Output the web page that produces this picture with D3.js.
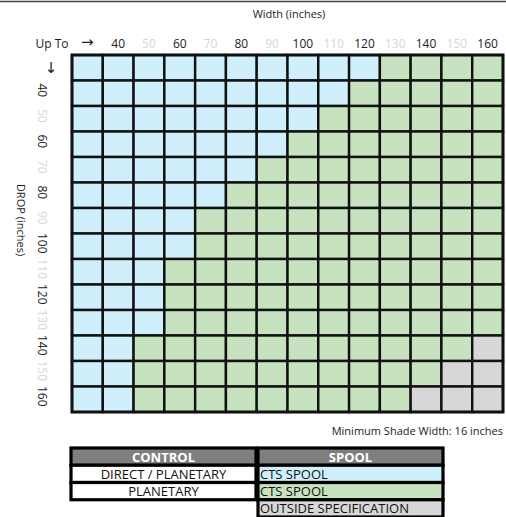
<!DOCTYPE html>
<html>
<head>
<meta charset="utf-8">
<script src="https://cdn.jsdelivr.net/npm/d3@7"></script>
<style>
  body { margin: 0; background: #fff; }
  text { font-family: "Open Sans", "Liberation Sans", sans-serif; }
</style>
</head>
<body>
<svg id="chart" width="506" height="517"></svg>
<script>
// column and row headers (first one is the arrow cell)
var colLabels = ["→", "40", "50", "60", "70", "80", "90", "100", "110", "120", "130", "140", "150", "160"];
var rowLabels = ["↓", "40", "50", "60", "70", "80", "90", "100", "110", "120", "130", "140", "150", "160"];
var faintLabels = ["50", "70", "90", "110", "130", "150"];

// how many cells per row are blue (from the left) and grey (from the right)
var blueCount = [10, 9, 8, 7, 6, 5, 4, 4, 3, 3, 3, 2, 2, 2];
var greyCount = [0, 0, 0, 0, 0, 0, 0, 0, 0, 0, 0, 1, 2, 3];

// legend table
var controlNames = ["DIRECT / PLANETARY", "PLANETARY"];
var spoolNames = ["CTS SPOOL", "CTS SPOOL", "OUTSIDE SPECIFICATION"];

var colors = { blue: "#d0effc", green: "#c6e2bf", grey: "#d7d7d7" };
var spoolColors = [colors.blue, colors.green, colors.grey];

var svg = d3.select("#chart");

var x = d3.scaleBand().domain(d3.range(colLabels.length)).range([72, 503]);
var y = d3.scaleBand().domain(d3.range(rowLabels.length)).range([55, 412]);

function labelColor(d) {
	return faintLabels.indexOf(d) >= 0 ? "#d6d6d6" : "#222";
}
function isArrow(d) { return d === "→" || d === "↓"; }

// top rule
svg.append("line")
	.attr("x1", 0).attr("x2", 506)
	.attr("y1", 1.5).attr("y2", 1.5)
	.attr("stroke", "#444").attr("stroke-width", 1.5);

// build cells
var cells = [];
rowLabels.forEach(function(r, i) {
	colLabels.forEach(function(c, j) {
		var kind = "green";
		if (j < blueCount[i]) kind = "blue";
		else if (j >= colLabels.length - greyCount[i]) kind = "grey";
		cells.push({ row: i, col: j, kind: kind });
	});
});

svg.append("g").selectAll("rect")
	.data(cells)
	.enter().append("rect")
	.attr("x", function(d) { return x(d.col); })
	.attr("y", function(d) { return y(d.row); })
	.attr("width", x.bandwidth())
	.attr("height", y.bandwidth())
	.attr("fill", function(d) { return colors[d.kind]; })
	.attr("stroke", "#111")
	.attr("stroke-width", 2.4);

svg.append("rect")
	.attr("x", 72).attr("y", 55)
	.attr("width", 431).attr("height", 357)
	.attr("fill", "none")
	.attr("stroke", "#111").attr("stroke-width", 2.8);

// column labels
svg.append("g").selectAll("text")
	.data(colLabels)
	.enter().append("text")
	.attr("x", function(d, i) { return x(i) + x.bandwidth() / 2; })
	.attr("y", function(d) { return isArrow(d) ? 47 : 48; })
	.attr("text-anchor", "middle")
	.attr("font-size", function(d) { return isArrow(d) ? 15 : 12; })
	.style("font-family", function(d) { return isArrow(d) ? "DejaVu Sans" : null; })
	.attr("fill", labelColor)
	.text(function(d) { return d; });

svg.append("text")
	.attr("x", 52).attr("y", 48)
	.attr("text-anchor", "middle")
	.attr("font-size", 12).attr("fill", "#222")
	.text("Up To");

svg.append("text")
	.attr("x", 289).attr("y", 18)
	.attr("text-anchor", "middle")
	.attr("font-size", 11).attr("fill", "#222")
	.text("Width (inches)");

// row labels, rotated
svg.append("g").selectAll("text")
	.data(rowLabels)
	.enter().append("text")
	.attr("transform", function(d, i) {
		var cy = y(i) + y.bandwidth() / 2 - 3;
		return i === 0 ? "translate(51," + (cy + 8) + ")" : "translate(38," + cy + ") rotate(90)";
	})
	.attr("text-anchor", "middle")
	.attr("font-size", function(d) { return isArrow(d) ? 15 : 12; })
	.style("font-family", function(d) { return isArrow(d) ? "DejaVu Sans" : null; })
	.attr("fill", labelColor)
	.text(function(d) { return d; });

svg.append("text")
	.attr("transform", "translate(17,220) rotate(90)")
	.attr("text-anchor", "middle")
	.attr("font-size", 11).attr("fill", "#222")
	.text("DROP (inches)");

svg.append("text")
	.attr("x", 503).attr("y", 435)
	.attr("text-anchor", "end")
	.attr("font-size", 11).attr("fill", "#222")
	.text("Minimum Shade Width: 16 inches");

// legend table
var lx = d3.scaleOrdinal().domain(["control", "spool"]).range([71, 258]);
var colW = 185;
var ly = d3.scaleBand().domain(d3.range(4)).range([448, 517]);

var legend = svg.append("g");

legend.selectAll(".head")
	.data(["CONTROL", "SPOOL"])
	.enter().append("rect")
	.attr("x", function(d, i) { return i ? lx("spool") : lx("control"); })
	.attr("y", ly(0))
	.attr("width", colW).attr("height", ly.bandwidth())
	.attr("fill", "#7f7f7f")
	.attr("stroke", "#000").attr("stroke-width", 3.2);

legend.selectAll(".headText")
	.data(["CONTROL", "SPOOL"])
	.enter().append("text")
	.attr("x", function(d, i) { return (i ? lx("spool") : lx("control")) + colW / 2; })
	.attr("y", ly(0) + ly.bandwidth() / 2 + 5)
	.attr("text-anchor", "middle")
	.attr("font-size", 13).attr("font-weight", "bold")
	.attr("fill", "#fff")
	.text(function(d) { return d; });

legend.selectAll(".ctrl")
	.data(controlNames)
	.enter().append("rect")
	.attr("x", lx("control"))
	.attr("y", function(d, i) { return ly(i + 1); })
	.attr("width", colW).attr("height", ly.bandwidth())
	.attr("fill", "#fff")
	.attr("stroke", "#000").attr("stroke-width", 3.2);

legend.selectAll(".ctrlText")
	.data(controlNames)
	.enter().append("text")
	.attr("x", lx("control") + colW / 2)
	.attr("y", function(d, i) { return ly(i + 1) + ly.bandwidth() / 2 + 5; })
	.attr("text-anchor", "middle")
	.attr("font-size", 13).attr("fill", "#111")
	.text(function(d) { return d; });

legend.selectAll(".spool")
	.data(spoolNames)
	.enter().append("rect")
	.attr("x", lx("spool"))
	.attr("y", function(d, i) { return ly(i + 1); })
	.attr("width", colW).attr("height", ly.bandwidth())
	.attr("fill", function(d, i) { return spoolColors[i]; })
	.attr("stroke", "#000").attr("stroke-width", 3.2);

legend.selectAll(".spoolText")
	.data(spoolNames)
	.enter().append("text")
	.attr("x", lx("spool") + 2)
	.attr("y", function(d, i) { return ly(i + 1) + ly.bandwidth() / 2 + 5; })
	.attr("font-size", 13).attr("fill", "#111")
	.text(function(d) { return d; });
</script>
</body>
</html>
